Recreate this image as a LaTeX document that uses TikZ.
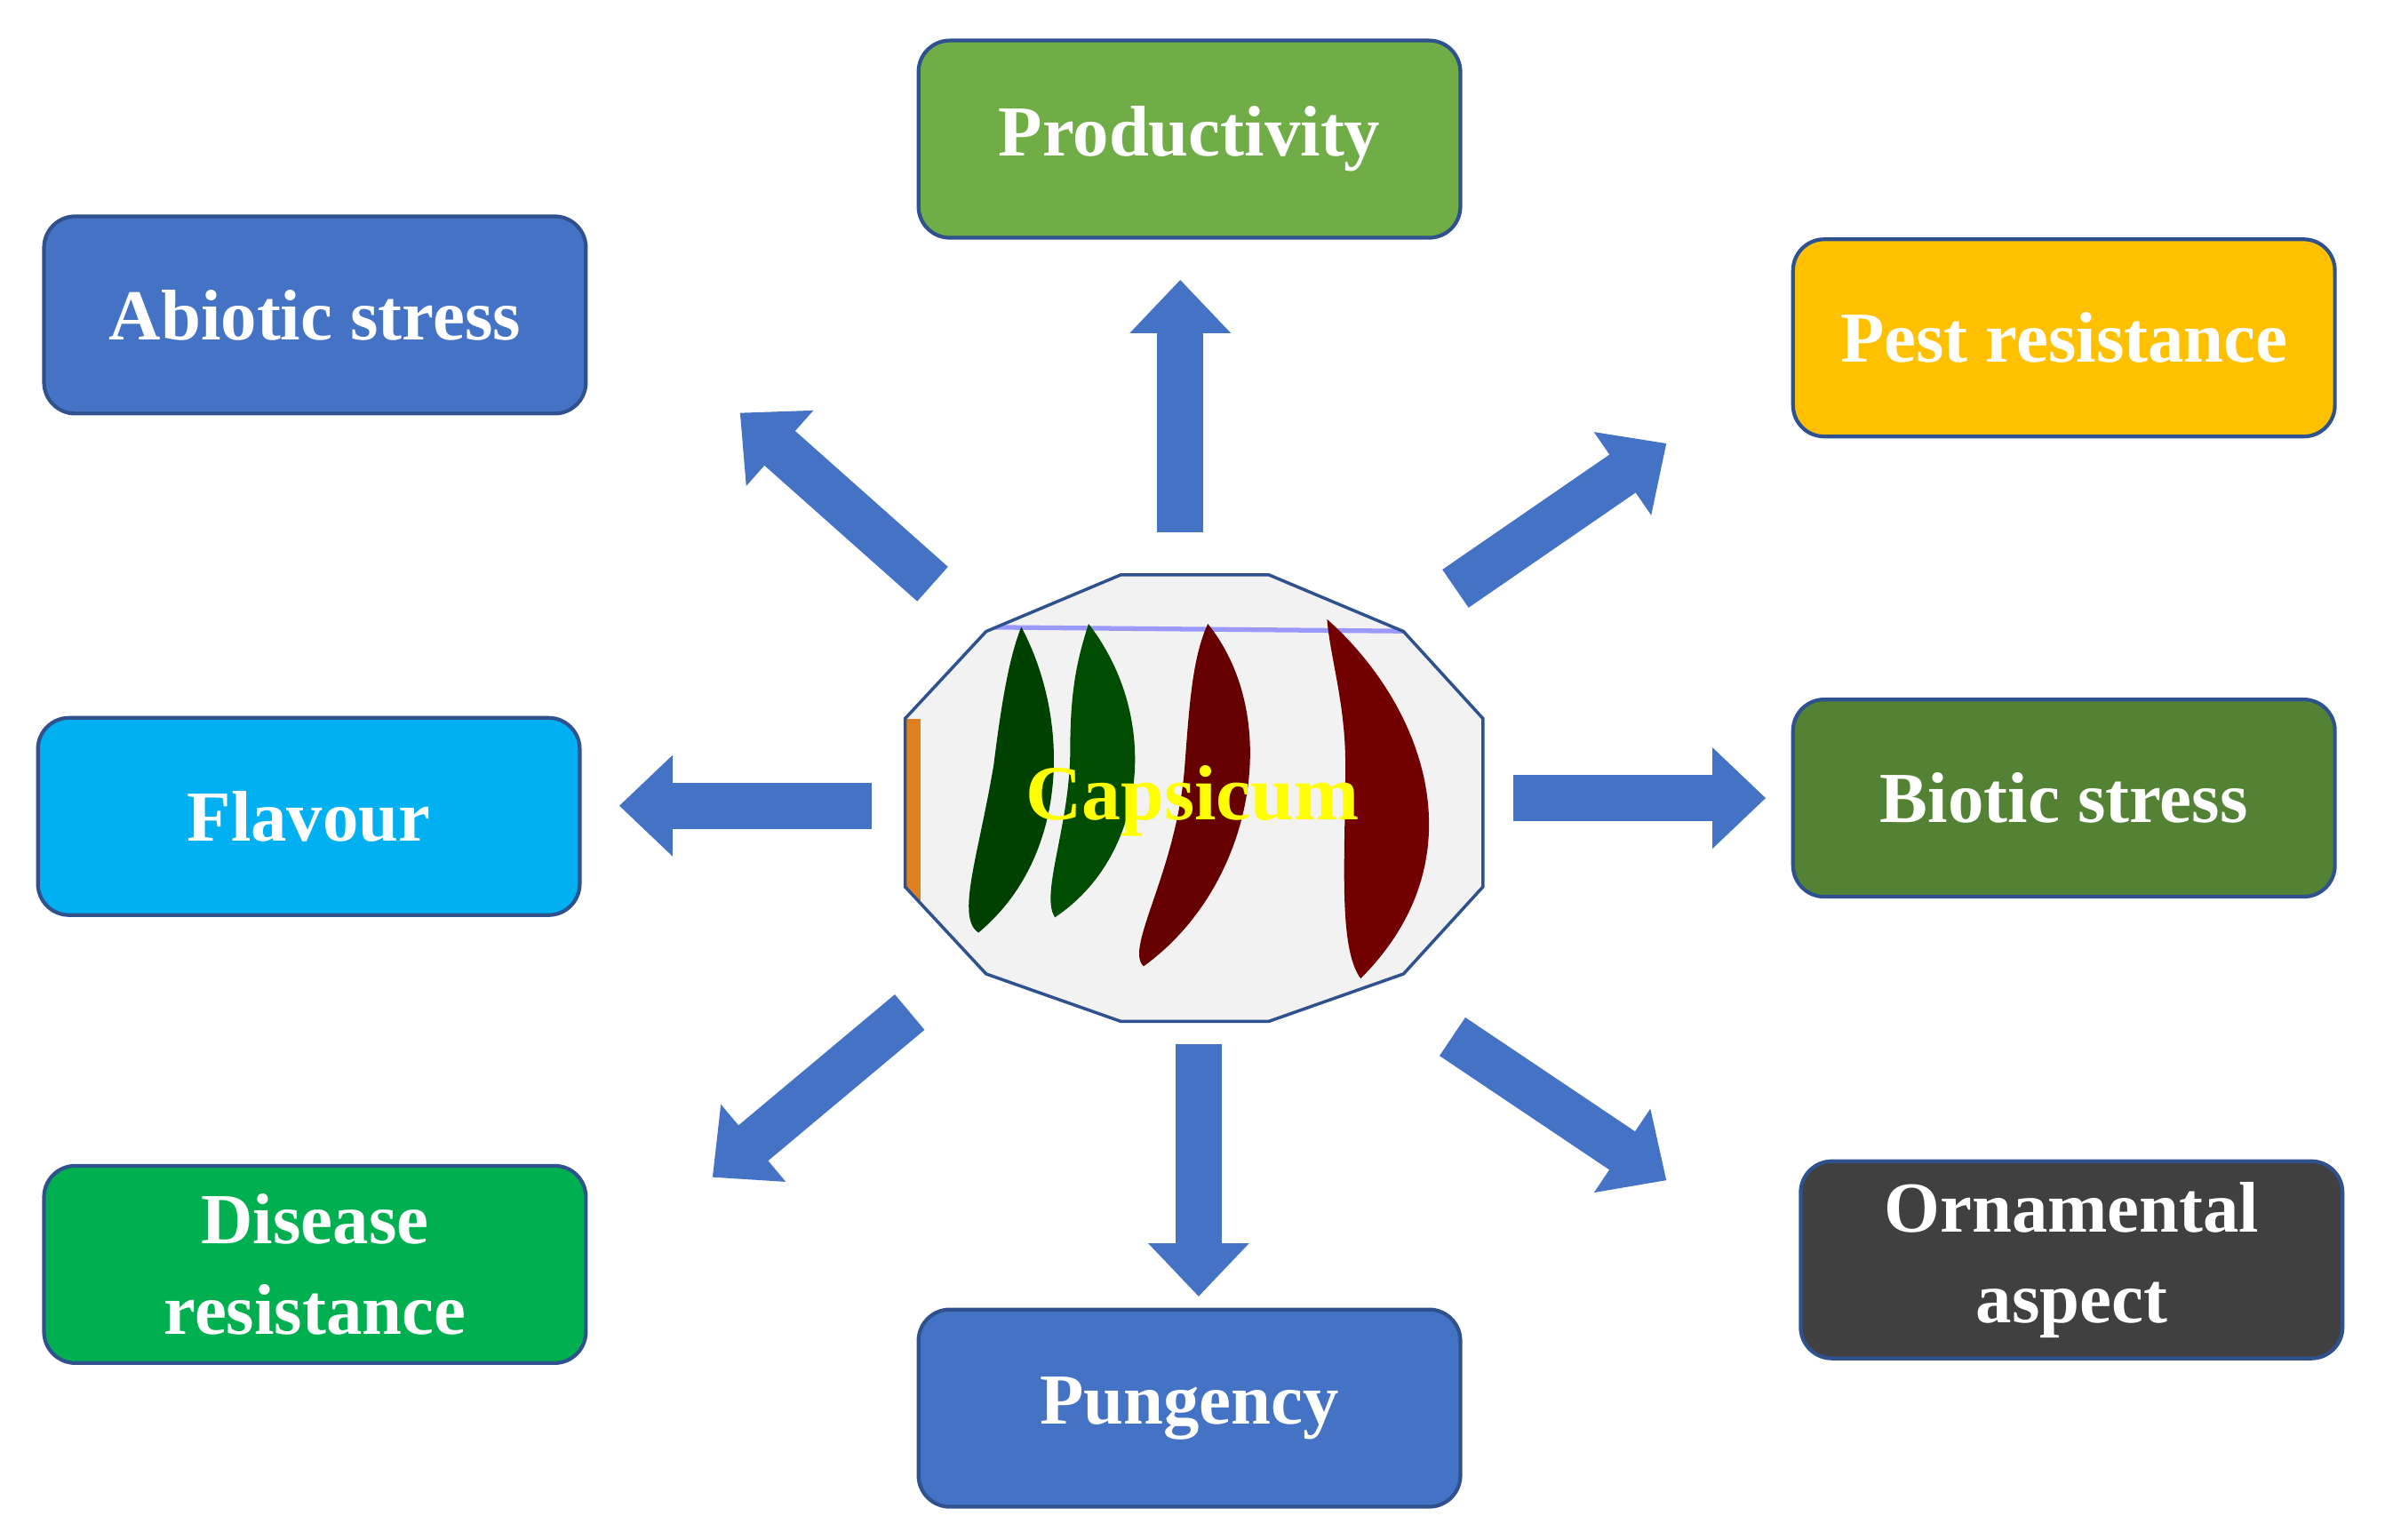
\documentclass[tikz,border=0pt]{standalone}
\usepackage{fontspec}
\setmainfont{Liberation Serif}
\usetikzlibrary{arrows.meta,shapes.geometric}
\definecolor{cblue}{HTML}{4472C4}
\definecolor{cborder}{HTML}{2F528F}
\definecolor{cprod}{HTML}{70AD47}
\definecolor{cpest}{HTML}{FFC000}
\definecolor{cflav}{HTML}{00B0F0}
\definecolor{cbiot}{HTML}{548235}
\definecolor{cdis}{HTML}{00B050}
\definecolor{corn}{HTML}{404040}
\definecolor{cyel}{HTML}{FFFF00}
\begin{document}
\begin{tikzpicture}[x=0.017205cm,y=-0.017205cm,
 box/.style={draw=cborder,line width=1.2pt,rounded corners=10pt,minimum width=6.1cm,minimum height=2.22cm,text=white,font=\bfseries\fontsize{23}{27}\selectfont,align=center},
 barr/.style={line width=0.52cm,cblue,-{Triangle[length=0.6cm,width=1.1cm]}}]
\useasboundingbox (0,0) rectangle (1560,1007);
\fill[white] (0,0) rectangle (1560,1007);
\node[box,fill=cprod] (prod) at (778,91) {Productivity};
\node[box,fill=cblue] (abio) at (206,206) {Abiotic stress};
\node[box,fill=cpest] (pest) at (1350,221) {Pest resistance};
\node[box,fill=cflav] (flav) at (202,534) {Flavour};
\node[box,fill=cbiot] (biot) at (1350,522) {Biotic stress};
\node[box,fill=cdis] (dis) at (206,827) {Disease\\[2pt]resistance};
\node[box,fill=cblue] (pung) at (778,921) {Pungency};
\node[box,fill=corn] (orn) at (1355,824) {Ornamental\\[2pt]aspect};
% center octagon with simple peppers
\coordinate (c) at (780,522);
\begin{scope}
\clip (733,376)--(830,376)--(918,413)--(970,470)--(970,580)--(918,637)--(830,668)--(733,668)--(645,637)--(592,580)--(592,470)--(645,413)--cycle;
\fill[gray!10] (580,370) rectangle (980,680);
\fill[orange!50!brown] (592,470) rectangle (602,600);
\draw[blue!40,line width=1.5pt] (620,410)--(940,413);
\fill[green!25!black] (668,410) .. controls (700,470) and (700,560) .. (640,610) .. controls (625,600) and (640,560) .. (650,500) .. controls (655,460) and (660,430) .. (668,410);
\fill[green!30!black] (712,408) .. controls (760,470) and (750,560) .. (690,600) .. controls (680,585) and (700,540) .. (700,490) .. controls (700,450) and (705,430) .. (712,408);
\fill[red!40!black] (790,408) .. controls (840,470) and (820,580) .. (748,632) .. controls (735,620) and (770,570) .. (775,500) .. controls (778,460) and (780,430) .. (790,408);
\fill[red!45!black] (868,405) .. controls (930,460) and (970,560) .. (890,640) .. controls (875,620) and (880,560) .. (880,500) .. controls (880,460) and (870,430) .. (868,405);
\end{scope}
\draw[cborder,line width=1pt] (733,376)--(830,376)--(918,413)--(970,470)--(970,580)--(918,637)--(830,668)--(733,668)--(645,637)--(592,580)--(592,470)--(645,413)--cycle;
\node[text=cyel,font=\bfseries\fontsize{25}{29}\selectfont] (cap) at (780,524) {Capsicum};
% arrows
\coordinate (t1) at (772,348); \coordinate (h1) at (772,183);
\coordinate (t2) at (610,382); \coordinate (h2) at (484,270);
\coordinate (t3) at (952,385); \coordinate (h3) at (1090,290);
\coordinate (t4) at (570,527); \coordinate (h4) at (405,527);
\coordinate (t5) at (990,522); \coordinate (h5) at (1155,522);
\coordinate (t6) at (595,662); \coordinate (h6) at (466,770);
\coordinate (t7) at (784,683); \coordinate (h7) at (784,848);
\coordinate (t8) at (950,678); \coordinate (h8) at (1090,772);
\foreach \i in {1,...,8} {\draw[barr] (t\i) -- (h\i);}
\end{tikzpicture}
\end{document}
